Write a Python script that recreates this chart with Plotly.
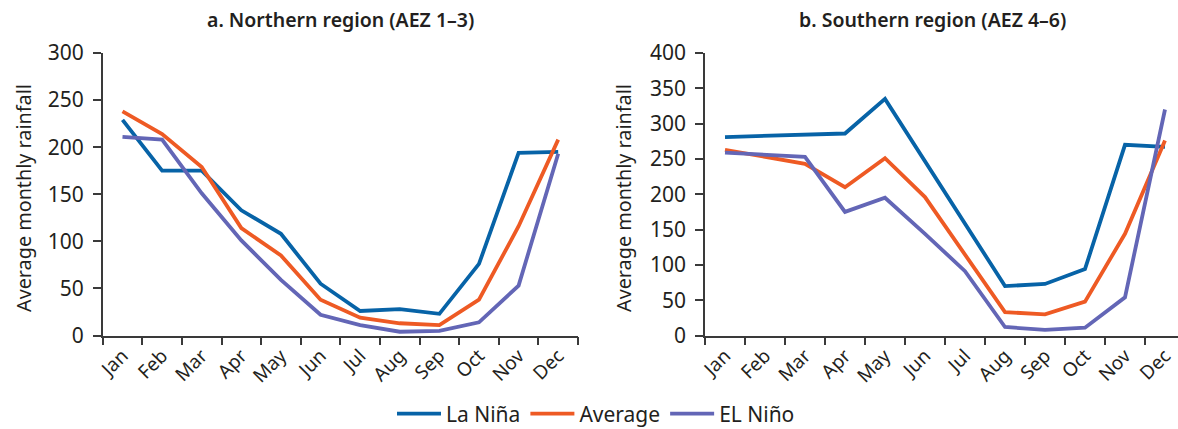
import plotly.graph_objects as go

months = ["Jan", "Feb", "Mar", "Apr", "May", "Jun", "Jul", "Aug", "Sep", "Oct", "Nov", "Dec"]

# a. Northern region (AEZ 1-3)
north_la_nina = [229, 175, 175, 133, 108, 55, 26, 28, 23, 76, 194, 195]
north_average = [238, 214, 179, 114, 85, 38, 19, 13, 11, 38, 116, 208]
north_el_nino = [211, 208, 151, 101, 59, 22, 11, 4, 5, 14, 53, 193]

# b. Southern region (AEZ 4-6)
south_la_nina = [281, 283, 284, 286, 335, 247, 158, 70, 73, 94, 270, 267]
south_average = [263, 253, 243, 210, 251, 196, 114, 33, 30, 48, 144, 276]
south_el_nino = [259, 256, 253, 175, 195, 144, 91, 12, 8, 11, 54, 320]

series_names = ["La Niña", "Average", "EL Niño"]
colors = ["#0763A7", "#EE5A24", "#6366B6"]

W, H = 1178, 429
FONT = "Noto Sans"
TXT = "#231F20"

def px_x(p):
    return p / W

def px_y(p):
    return (H - p) / H

fig = go.Figure()

for vals, name, col in zip([north_la_nina, north_average, north_el_nino], series_names, colors):
    fig.add_trace(go.Scatter(x=months, y=vals, name=name, mode="lines",
                             line=dict(color=col, width=3.8),
                             xaxis="x", yaxis="y", showlegend=True))
for vals, name, col in zip([south_la_nina, south_average, south_el_nino], series_names, colors):
    fig.add_trace(go.Scatter(x=months, y=vals, name=name, mode="lines",
                             line=dict(color=col, width=3.8),
                             xaxis="x2", yaxis="y2", showlegend=False))

axis_common = dict(showgrid=False, zeroline=False, showline=True, linecolor="#3a3a3a",
                   linewidth=1.5, ticks="outside", ticklen=8, tickwidth=1.5, tickcolor="#3a3a3a",
                   automargin=False)

ydom = [px_y(335.5), px_y(53)]

fig.update_layout(
    width=W, height=H, autosize=False,
    margin=dict(l=0, r=0, t=0, b=0, pad=0, autoexpand=False),
    paper_bgcolor="white", plot_bgcolor="white",
    font=dict(family=FONT, color=TXT),
    xaxis=dict(domain=[px_x(102.7), px_x(578)], type="category", range=[-0.5, 11.5],
               tickson="boundaries", tickangle=-45,
               tickfont=dict(size=19, color=TXT), anchor="y", **axis_common),
    yaxis=dict(domain=ydom, range=[0, 300], dtick=50, tickfont=dict(size=21, color=TXT),
               anchor="x", ticklabelstandoff=5, **axis_common),
    xaxis2=dict(domain=[px_x(705), 1.0], type="category", range=[-0.5, -0.5 + (W - 705) / 40.0],
                tickson="boundaries", tickangle=-45,
                tickfont=dict(size=19, color=TXT), anchor="y2", **axis_common),
    yaxis2=dict(domain=ydom, range=[0, 400], dtick=50, tickfont=dict(size=21, color=TXT),
                anchor="x2", ticklabelstandoff=5, **axis_common),
    legend=dict(orientation="h", x=px_x(596), xanchor="center", y=px_y(414), yanchor="middle",
                font=dict(size=21, color=TXT), itemwidth=44, tracegroupgap=0,
                bgcolor="rgba(0,0,0,0)"),
    annotations=[
        dict(text="a. Northern region (AEZ 1–3)", x=px_x(340), y=px_y(19), xref="paper", yref="paper",
             showarrow=False, xanchor="center", yanchor="middle",
             font=dict(size=19.5, color=TXT, weight=600)),
        dict(text="b. Southern region (AEZ 4–6)", x=px_x(932), y=px_y(19), xref="paper", yref="paper",
             showarrow=False, xanchor="center", yanchor="middle",
             font=dict(size=19.5, color=TXT, weight=600)),
        dict(text="Average monthly rainfall", x=px_x(23), y=px_y(198), xref="paper", yref="paper",
             showarrow=False, textangle=-90, xanchor="center", yanchor="middle",
             font=dict(size=19.8, color=TXT)),
        dict(text="Average monthly rainfall", x=px_x(623), y=px_y(198), xref="paper", yref="paper",
             showarrow=False, textangle=-90, xanchor="center", yanchor="middle",
             font=dict(size=19.8, color=TXT)),
    ],
)

fig.write_html("out.html")
